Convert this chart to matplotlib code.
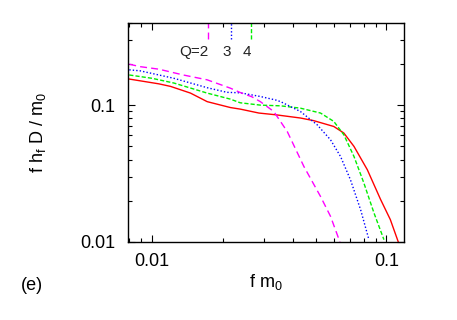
import numpy as np
import matplotlib
matplotlib.use("Agg")
import matplotlib.pyplot as plt
from matplotlib.ticker import LogLocator, NullFormatter, FixedLocator, FixedFormatter

plt.rcParams['font.family'] = ['Liberation Sans', 'DejaVu Sans']
plt.rcParams['mathtext.fontset'] = 'custom'
plt.rcParams['mathtext.rm'] = 'Liberation Sans'

# values (f m0, f h_f D / m0)
x_q2 = [0.008, 0.0089, 0.0107, 0.0136, 0.0172, 0.0216, 0.0238, 0.0267, 0.029, 0.0331,
        0.0378, 0.0445, 0.0524, 0.0578, 0.0634]
y_q2 = [0.199, 0.191, 0.183, 0.166, 0.153, 0.133, 0.1236, 0.115, 0.106, 0.0898,
        0.064, 0.0356, 0.0215, 0.0154, 0.0100]

x_q3 = [0.008, 0.0089, 0.0124, 0.0172, 0.0209, 0.0238, 0.029, 0.0337, 0.0354, 0.043,
        0.0507, 0.0578, 0.0638, 0.0703, 0.0777, 0.0843]
y_q3 = [0.181, 0.178, 0.157, 0.134, 0.124, 0.123, 0.1156, 0.109, 0.106, 0.0898,
        0.0718, 0.0558, 0.0421, 0.0285, 0.0172, 0.0104]

x_q4 = [0.008, 0.010, 0.0124, 0.0172, 0.0216, 0.0238, 0.029, 0.0354, 0.043, 0.0524,
        0.0597, 0.0659, 0.0728, 0.0802, 0.0886, 0.0977]
y_q4 = [0.166, 0.157, 0.145, 0.1224, 0.1106, 0.104, 0.100, 0.0988, 0.095, 0.0875,
        0.076, 0.0607, 0.0421, 0.027, 0.0163, 0.0104]

x_q1 = [0.008, 0.0107, 0.012, 0.0146, 0.0172, 0.0216, 0.0238, 0.0286, 0.0337, 0.043,
        0.049, 0.0597, 0.0659, 0.0728, 0.083, 0.0946, 0.104, 0.113]
y_q1 = [0.155, 0.143, 0.137, 0.1224, 0.106, 0.096, 0.0935, 0.0875, 0.085, 0.0805,
        0.077, 0.0698, 0.0625, 0.0499, 0.0337, 0.0204, 0.0146, 0.0098]

key_labels = ["Q=2", "3", "4"]
key_x = [0.0174, 0.0218, 0.0264]

fig = plt.figure(figsize=(4.57, 3.2), dpi=100)
ax = fig.add_axes([128/457, 1-242/320, (404-128)/457, (242-22.7)/320])

ax.plot(x_q1, y_q1, color='#ff0000', lw=1.0, ls='-')
ax.plot(x_q4, y_q4, color='#00ee00', lw=1.0, ls=(0, (3, 1.5)))
ax.plot(x_q3, y_q3, color='#0000ff', lw=1.0, ls=(0, (1, 1.5)))
ax.plot(x_q2, y_q2, color='#ff00ff', lw=1.0, ls=(0, (5, 3)))

# key marks hanging from the top
ax.plot([key_x[0]] * 2, [0.303, 0.4], color='#ff00ff', lw=1.0, ls=(0, (5, 3)))
ax.plot([key_x[1]] * 2, [0.303, 0.4], color='#0000ff', lw=1.0, ls=(0, (1, 1.5)))
ax.plot([key_x[2]] * 2, [0.303, 0.4], color='#00ee00', lw=1.0, ls=(0, (3, 1.5)))
for kx, kl in zip(key_x, key_labels):
    ax.text(kx, 0.246, kl, ha='right', va='center', fontsize=11, color='#222222')

ax.set_xscale('log')
ax.set_yscale('log')
ax.set_xlim(0.0079, 0.119)
ax.set_ylim(0.01, 0.4)

ax.xaxis.set_major_locator(FixedLocator([0.01, 0.1]))
ax.xaxis.set_major_formatter(FixedFormatter(["0.01", "0.1"]))
ax.yaxis.set_major_locator(FixedLocator([0.01, 0.1]))
ax.yaxis.set_major_formatter(FixedFormatter(["0.01", "0.1"]))
ax.xaxis.set_minor_locator(LogLocator(base=10, subs=np.arange(2, 10)))
ax.yaxis.set_minor_locator(LogLocator(base=10, subs=np.arange(2, 10)))
ax.xaxis.set_minor_formatter(NullFormatter())
ax.yaxis.set_minor_formatter(NullFormatter())

ax.tick_params(which='both', direction='in', top=True, right=True, labelsize=13)
ax.tick_params(which='major', length=5, width=0.8)
ax.tick_params(which='minor', length=3, width=0.8)
ax.tick_params(axis='x', which='major', pad=8)
ax.tick_params(axis='y', which='major', pad=9)
for s in ax.spines.values():
    s.set_linewidth(1.0)

ax.set_xlabel(r"f m$_\mathregular{0}$", fontsize=13)
ax.set_ylabel(r"f h$_\mathregular{f}$ D / m$_\mathregular{0}$", fontsize=13)
ax.xaxis.set_label_coords(0.5, -0.135)
ax.yaxis.set_label_coords(-0.29, 0.5)
fig.text(32/457, 1-285/320, "(e)", fontsize=13, ha='center', va='center')

fig.savefig("out.png", dpi=100)
